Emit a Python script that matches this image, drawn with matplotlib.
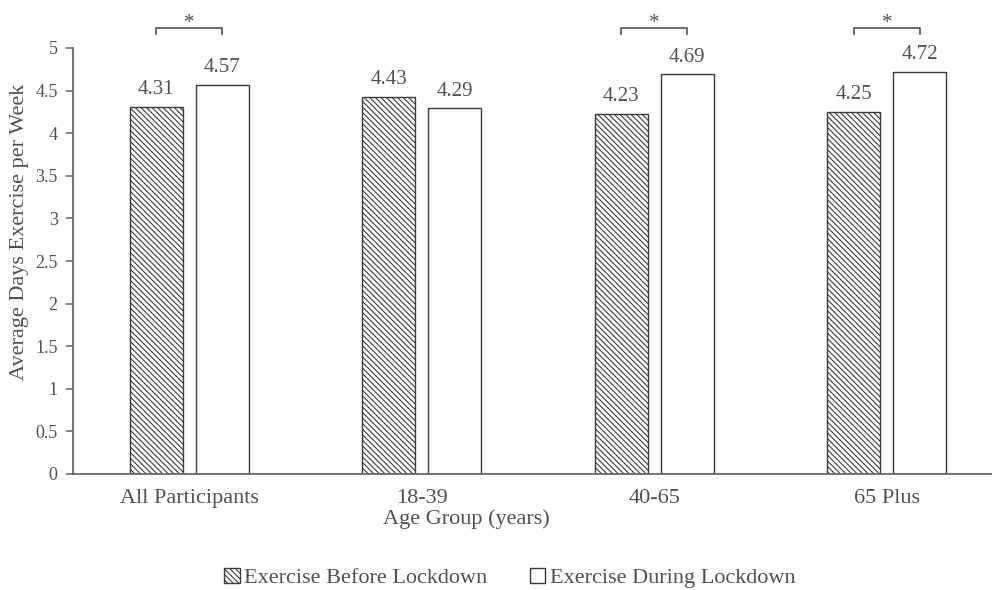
import numpy as np
import matplotlib.pyplot as plt
from matplotlib.patches import Patch

plt.rcParams['font.family'] = ['Liberation Serif', 'DejaVu Serif']
plt.rcParams['hatch.linewidth'] = 0.8
plt.rcParams['hatch.color'] = '#3a3a3a'

groups = ['All Participants', '18-39', '40-65', '65 Plus']
before = [4.31, 4.43, 4.23, 4.25]
during = [4.57, 4.29, 4.69, 4.72]
significant = [True, False, True, True]

text_color = '#505050'
line_color = '#6a6a6a'
hatch = '\\' * 6

fig = plt.figure(figsize=(9.92, 5.9), dpi=100)
ax = fig.add_axes([73 / 992, 1 - 474 / 590, 930 / 992, 426 / 590])

x = np.arange(len(groups))
width = 0.228
offset = 0.142

ax.bar(x - offset, before, width, color='white', edgecolor='#3a3a3a',
       linewidth=1.0, hatch=hatch)
ax.bar(x + offset, during, width, color='white', edgecolor='#3a3a3a',
       linewidth=1.0)

for xi, b, d in zip(x, before, during):
    ax.text(xi - offset, b + 0.09, f'{b:.2f}', ha='center', va='bottom',
            fontsize=15, color=text_color)
    ax.text(xi + offset, d + 0.09, f'{d:.2f}', ha='center', va='bottom',
            fontsize=15, color=text_color)

# significance brackets
for xi, sig in zip(x, significant):
    if not sig:
        continue
    x0, x1 = xi - offset, xi + offset
    ax.plot([x0, x0, x1, x1], [5.165, 5.235, 5.235, 5.165], color='#505050',
            linewidth=1.2, clip_on=False)
    ax.text(xi, 5.18, '*', ha='center', va='bottom', fontsize=15,
            color=text_color, clip_on=False)

ax.set_xlim(-0.5, 3.5)
ax.set_ylim(0, 5)
ax.set_yticks(np.arange(0, 5.01, 0.5))
ax.set_yticklabels(['0', '0.5', '1', '1.5', '2', '2.5', '3', '3.5', '4', '4.5', '5'])
ax.set_xticks(x)
ax.set_xticklabels(groups)

ax.spines['top'].set_visible(False)
ax.spines['right'].set_visible(False)
ax.spines['left'].set_color(line_color)
ax.spines['bottom'].set_color(line_color)
ax.spines['left'].set_linewidth(1.3)
ax.spines['bottom'].set_linewidth(1.3)
ax.tick_params(axis='y', direction='out', length=5, width=1.2, color=line_color,
               labelsize=13, labelcolor=text_color, pad=6)
ax.tick_params(axis='x', length=0, labelsize=16, labelcolor=text_color, pad=11)

fig.text(20 / 992, 1 - 232 / 590, 'Average Days Exercise per Week', rotation=90,
         ha='center', va='center', fontsize=16, color=text_color)
fig.text(466 / 992, 1 - 519 / 590, 'Age Group (years)', ha='center', va='center',
         fontsize=16, color=text_color)

handles = [Patch(facecolor='white', edgecolor='#3a3a3a', hatch=hatch,
                 label='Exercise Before Lockdown'),
           Patch(facecolor='white', edgecolor='#3a3a3a',
                 label='Exercise During Lockdown')]
fig.legend(handles=handles, loc='center', bbox_to_anchor=(510 / 992, 1 - 578 / 590),
           ncol=2, frameon=False, fontsize=16, handlelength=0.7, handleheight=0.7,
           handletextpad=0.2, columnspacing=1.9, labelcolor=text_color)

fig.savefig('out.png', dpi=100)
